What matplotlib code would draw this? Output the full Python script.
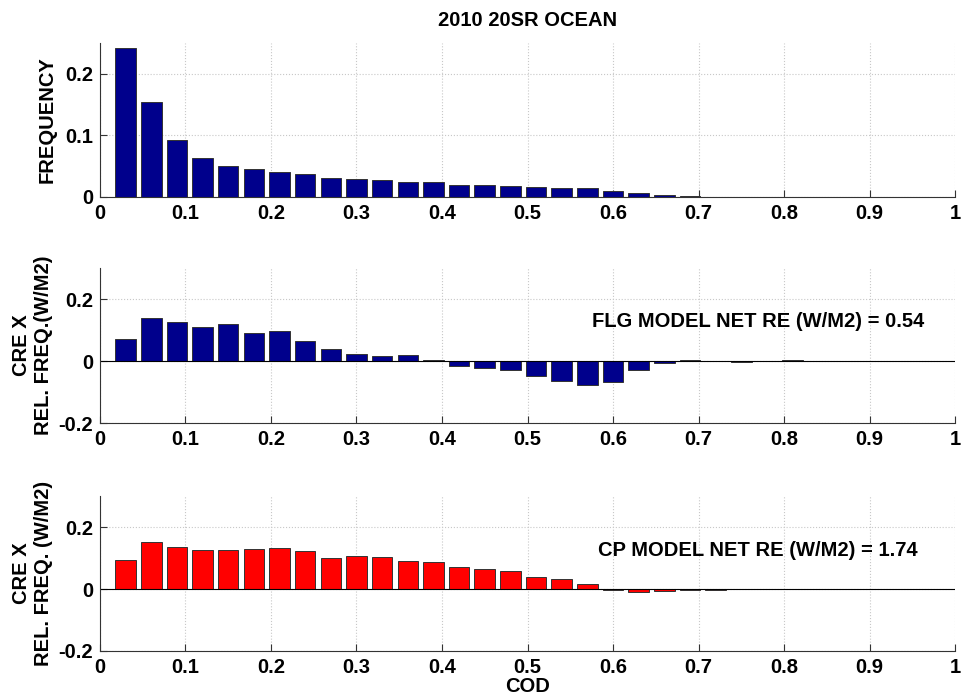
import numpy as np
import matplotlib
matplotlib.use('Agg')
import matplotlib.pyplot as plt

plt.rcParams['font.family'] = ['Liberation Sans', 'DejaVu Sans']
plt.rcParams['font.weight'] = 'bold'

# bin centres of cloud optical depth classes
cod = [0.03 * k for k in range(1, 31)]

frequency = [0.242, 0.1545, 0.092, 0.0636, 0.0506, 0.0452, 0.0408, 0.0365,
             0.0316, 0.0294, 0.0283, 0.025, 0.024, 0.0202, 0.019, 0.0186,
             0.017, 0.0153, 0.0142, 0.0104, 0.0065, 0.0033, 0.001, 0.0006,
             0.0004, 0.0004, 0.0003, 0.0002, 0.0002, 0.0001]

flg_re = [0.072, 0.1397, 0.1258, 0.1107, 0.1204, 0.0914, 0.0968, 0.0634,
          0.0376, 0.0215, 0.0151, 0.0204, 0.003, -0.015, -0.0215, -0.028,
          -0.0495, -0.0635, -0.0763, -0.0677, -0.028, -0.0065, 0.004, 0.0005,
          -0.002, 0.001, 0.002, 0.0, 0.0, 0.0]

cp_re = [0.092, 0.1506, 0.1364, 0.1245, 0.1256, 0.129, 0.131, 0.1213,
         0.0985, 0.105, 0.103, 0.090, 0.0877, 0.0726, 0.063, 0.0597,
         0.040, 0.0315, 0.0175, -0.002, -0.011, -0.007, -0.002, -0.002,
         -0.001, 0.001, 0.0, 0.0, 0.0, 0.0]

flg_net = 0.54
cp_net = 1.74

navy = (0.0, 0.0, 0.55)
red = (1.0, 0.0, 0.0)
fs = 14.5

fig = plt.figure(figsize=(9.64, 7.0), dpi=100)
ax1 = fig.add_axes([0.1037, 0.7186, 0.887, 0.22])
ax2 = fig.add_axes([0.1037, 0.3957, 0.887, 0.2214])
ax3 = fig.add_axes([0.1037, 0.07, 0.887, 0.2214])


def style(ax, yticks):
    ax.set_xlim(0, 1)
    ax.set_xticks(np.arange(0, 1.01, 0.1))
    ax.set_xticklabels(['0', '0.1', '0.2', '0.3', '0.4', '0.5', '0.6', '0.7', '0.8', '0.9', '1'])
    ax.set_yticks(yticks)
    ax.spines['top'].set_visible(False)
    ax.spines['right'].set_visible(False)
    ax.spines['left'].set_color('#333333')
    ax.spines['bottom'].set_color('#333333')
    ax.tick_params(direction='in', length=5, labelsize=fs, colors='#333333',
                   labelcolor='black', pad=5)
    for lab in ax.get_xticklabels() + ax.get_yticklabels():
        lab.set_fontweight('bold')
    ax.grid(True, linestyle=':', color='#c8c8c8', linewidth=0.8)
    ax.set_axisbelow(True)


ax1.bar(cod, frequency, width=0.024, color=navy, edgecolor='#333333', linewidth=0.7)
ax1.set_ylim(0, 0.25)
style(ax1, [0, 0.1, 0.2])
ax1.set_yticklabels(['0', '0.1', '0.2'])
ax1.set_ylabel('FREQUENCY', fontsize=fs, fontweight='bold', labelpad=6)
ax1.set_title('2010 20SR OCEAN', fontsize=fs, fontweight='bold', pad=12)

ax2.bar(cod, flg_re, width=0.024, color=navy, edgecolor='#333333', linewidth=0.7)
ax2.axhline(0, color='black', linewidth=0.8)
ax2.set_ylim(-0.2, 0.3)
style(ax2, [-0.2, 0, 0.2])
ax2.set_yticklabels(['-0.2', '0', '0.2'])
ax2.set_ylabel('CRE X\nREL. FREQ.(W/M2)', fontsize=fs, fontweight='bold', labelpad=4)
ax2.text(0.575, 0.129, 'FLG MODEL NET RE (W/M2) = %.2f' % flg_net,
         fontsize=fs, fontweight='bold', va='center')

ax3.bar(cod, cp_re, width=0.024, color=red, edgecolor='#333333', linewidth=0.7)
ax3.axhline(0, color='black', linewidth=0.8)
ax3.set_ylim(-0.2, 0.3)
style(ax3, [-0.2, 0, 0.2])
ax3.set_yticklabels(['-0.2', '0', '0.2'])
ax3.set_ylabel('CRE X\nREL. FREQ. (W/M2)', fontsize=fs, fontweight='bold', labelpad=4)
ax3.text(0.582, 0.123, 'CP MODEL NET RE (W/M2) = %.2f' % cp_net,
         fontsize=fs, fontweight='bold', va='center')
ax3.set_xlabel('COD', fontsize=fs, fontweight='bold', labelpad=0)

fig.savefig('out.png', dpi=100)
